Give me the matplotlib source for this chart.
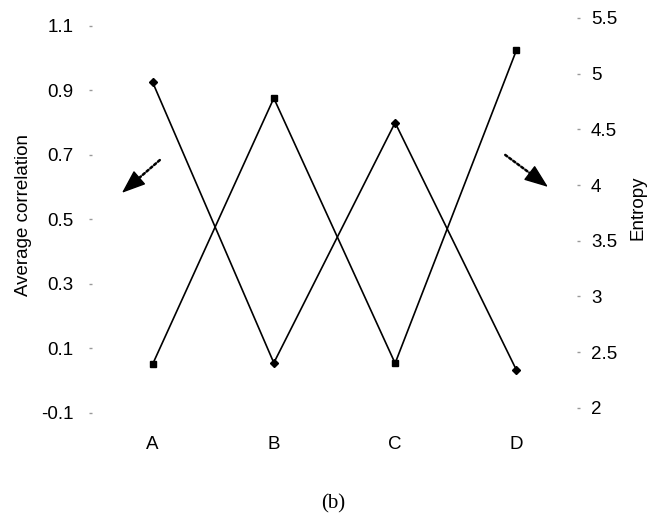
import matplotlib.pyplot as plt

plt.rcParams["font.family"] = ["Liberation Sans", "DejaVu Sans"]

categories = ["A", "B", "C", "D"]
correlation = [0.926, 0.055, 0.80, 0.033]
entropy = [2.39, 4.78, 2.40, 5.21]
left_ticks = [-0.1, 0.1, 0.3, 0.5, 0.7, 0.9, 1.1]
left_labels = ["-0.1", "0.1", "0.3", "0.5", "0.7", "0.9", "1.1"]
right_ticks = [2, 2.5, 3, 3.5, 4, 4.5, 5, 5.5]
right_labels = ["2", "2.5", "3", "3.5", "4", "4.5", "5", "5.5"]

fig = plt.figure(figsize=(6.61, 5.18), dpi=100)
ax = fig.add_axes([0.139, 0.203, 0.734, 0.7625])
ax2 = ax.twinx()

x = range(len(categories))
ax.plot(x, correlation, color="black", lw=1.2, marker="D", ms=4.5)
ax2.plot(x, entropy, color="black", lw=1.2, marker="s", ms=4.5)

for a in (ax, ax2):
    for s in a.spines.values():
        s.set_visible(False)

ax.set_xticks(list(x))
ax.set_xticklabels(categories)
ax.tick_params(axis="x", length=0, pad=17, labelsize=13.5)
ax.set_yticks(left_ticks)
ax.set_yticklabels(left_labels)
ax.tick_params(axis="y", length=2, width=1, color="#999999", pad=11, labelsize=13.5)
ax2.set_yticks(right_ticks)
ax2.set_yticklabels(right_labels)
ax2.tick_params(axis="y", length=2, width=1, color="#999999", pad=8, labelsize=13.5)

# limits after the ticks, set_yticks would widen them
ax.set_xlim(-0.5, 3.5)
ax.set_ylim(-0.1, 1.125)
ax2.set_ylim(1.955, 5.501)

ax.set_ylabel("Average correlation", fontsize=13.5, labelpad=7)
ax2.set_ylabel("Entropy", fontsize=13.5)
ax2.yaxis.set_label_coords(1.109, 0.52)

# dotted shaft + solid filled head
shaft = dict(arrowstyle="-", ls=(0, (1, 1)), lw=1.8, color="black", shrinkA=0, shrinkB=0)
head = dict(arrowstyle="-|>,head_length=1.0,head_width=0.38", lw=1, color="black",
            mutation_scale=15, shrinkA=0, shrinkB=0)
arrows = [((0.140, 0.640), (0.093, 0.590), (0.062, 0.557)),
          ((0.852, 0.653), (0.907, 0.603), (0.940, 0.572))]
for start, mid, tip in arrows:
    ax.annotate("", xy=mid, xytext=start, xycoords="axes fraction",
                textcoords="axes fraction", arrowprops=shaft)
    ax.annotate("", xy=tip, xytext=mid, xycoords="axes fraction",
                textcoords="axes fraction", arrowprops=head)

fig.text(0.504, 0.027, "(b)", ha="center", va="center", fontsize=15,
         family="Liberation Serif")

fig.savefig("out.png", dpi=100)
